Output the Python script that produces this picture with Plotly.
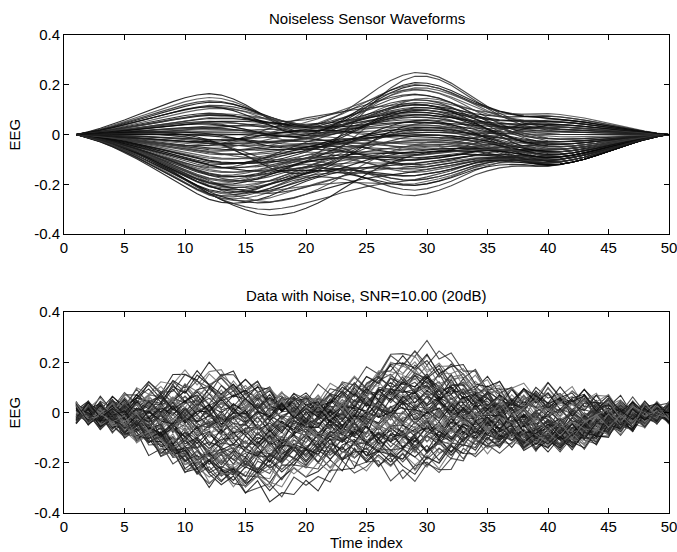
import numpy as np
import plotly.graph_objects as go

# time axis
t = list(range(1, 51))

# source time courses (read/estimated from the figure, 50 samples each)
s1 = [0, 0.06, 0.14, 0.23, 0.33, 0.44, 0.55, 0.66, 0.77, 0.87,
      0.95, 1.00, 0.99, 0.93, 0.83, 0.70, 0.55, 0.40, 0.27, 0.17,
      0.10, 0.05, 0.02, 0, 0, 0, 0, 0, 0, 0,
      0, 0, 0, 0, 0, 0, 0, 0, 0, 0,
      0, 0, 0, 0, 0, 0, 0, 0, 0, 0]
s2 = [0, 0.03, 0.06, 0.10, 0.15, 0.21, 0.28, 0.36, 0.44, 0.53,
      0.62, 0.71, 0.79, 0.86, 0.92, 0.97, 1.00, 0.99, 0.96, 0.90,
      0.82, 0.72, 0.60, 0.48, 0.36, 0.25, 0.16, 0.09, 0.04, 0.01,
      0, 0, 0, 0, 0, 0, 0, 0, 0, 0,
      0, 0, 0, 0, 0, 0, 0, 0, 0, 0]
s3 = [0, 0, 0, 0, 0, 0, 0, 0, 0, 0,
      0, 0, 0, 0, 0, 0, 0, 0.02, 0.05, 0.10,
      0.17, 0.27, 0.38, 0.51, 0.64, 0.77, 0.88, 0.96, 1.00, 0.98,
      0.92, 0.82, 0.69, 0.55, 0.42, 0.30, 0.20, 0.12, 0.07, 0.03,
      0.01, 0, 0, 0, 0, 0, 0, 0, 0, 0]
s4 = [0, 0, 0, 0, 0, 0, 0, 0, 0, 0,
      0, 0, 0, 0, 0, 0, 0, 0, 0, 0,
      0, 0, 0, 0, 0, 0, 0, 0, 0, 0.01,
      0.03, 0.08, 0.15, 0.25, 0.38, 0.52, 0.67, 0.81, 0.93, 1.00,
      0.99, 0.93, 0.83, 0.70, 0.56, 0.42, 0.29, 0.17, 0.07, 0]

# per-sensor gains on each source (estimated)
w1 = [0.20, 0.17, 0.15, 0.13, 0.12, 0.11, 0.10, 0.09, 0.08, 0.07,
      0.06, 0.06, 0.05, 0.04, 0.04, 0.03, 0.02, 0.02, 0.01, 0.00,
      0.00, -0.01, -0.01, -0.02, -0.02, -0.03, -0.03, -0.04, -0.04, -0.05,
      -0.05, -0.06, -0.06, -0.07, -0.07, -0.08, -0.08, -0.09, -0.09, -0.10,
      -0.10, -0.11, -0.11, -0.12, -0.12, -0.13, -0.13, -0.14, -0.14, -0.05,
      -0.03, -0.06, -0.02, -0.04, -0.01, 0.10, 0.08, 0.12, -0.08, -0.10,
      0.14, 0.09, 0.05, 0.03, 0.01, -0.02, -0.04, -0.06, -0.07, -0.09,
      -0.11, -0.12, -0.13, -0.15, -0.16, -0.08, -0.10, -0.05, -0.03, 0.00,
      0.02, 0.06, 0.04, -0.01, -0.05, -0.07, -0.03, 0.07, -0.12, -0.09]
w2 = [-0.05, -0.03, -0.02, 0.00, -0.01, 0.01, -0.02, 0.02, 0.00, 0.01,
      0.03, -0.01, 0.02, 0.01, -0.02, 0.03, 0.00, 0.02, -0.01, 0.02,
      -0.03, 0.01, -0.04, 0.00, -0.05, -0.02, -0.06, -0.03, -0.07, -0.04,
      -0.08, -0.05, -0.09, -0.06, -0.10, -0.07, -0.11, -0.08, -0.12, -0.09,
      -0.13, -0.10, -0.14, -0.12, -0.15, -0.13, -0.16, -0.14, -0.17, -0.20,
      -0.22, -0.24, -0.26, -0.28, -0.32, -0.18, -0.15, -0.20, 0.05, 0.08,
      -0.04, -0.06, -0.03, -0.05, 0.00, -0.02, -0.09, -0.01, -0.12, -0.04,
      -0.07, -0.02, -0.09, -0.06, -0.11, -0.18, -0.20, -0.16, -0.13, -0.10,
      -0.07, -0.08, 0.04, 0.05, 0.03, 0.02, -0.01, -0.04, -0.08, -0.15]
w3 = [0.20, 0.14, 0.25, 0.10, 0.18, 0.06, 0.12, 0.03, 0.16, 0.08,
      -0.02, 0.11, 0.05, 0.20, -0.05, 0.09, 0.02, 0.14, -0.08, 0.07,
      0.00, 0.12, -0.03, 0.05, -0.10, 0.08, 0.01, -0.12, 0.04, -0.06,
      0.10, -0.15, -0.02, 0.03, -0.18, -0.07, 0.06, -0.20, -0.04, -0.10,
      0.02, -0.22, -0.13, -0.08, 0.00, -0.16, -0.05, -0.24, -0.11, -0.19,
      -0.09, -0.14, -0.03, -0.17, -0.07, 0.15, 0.24, 0.05, 0.18, 0.12,
      0.08, 0.19, 0.13, 0.02, -0.04, 0.09, -0.07, 0.04, -0.11, 0.00,
      -0.14, 0.07, -0.09, -0.03, -0.18, -0.06, -0.12, 0.03, -0.20, -0.08,
      0.01, 0.11, -0.06, 0.16, -0.01, 0.10, -0.13, 0.21, -0.02, -0.16]
w4 = [0.06, 0.08, 0.02, 0.05, -0.02, 0.04, 0.07, 0.03, -0.04, 0.02,
      0.05, 0.00, -0.03, 0.03, 0.06, -0.05, 0.01, -0.06, 0.04, -0.02,
      -0.07, -0.08, 0.02, -0.09, -0.04, -0.10, 0.00, -0.06, -0.11, -0.08,
      -0.05, -0.09, -0.12, -0.07, -0.10, -0.03, -0.11, -0.08, -0.12, -0.06,
      -0.10, -0.09, -0.11, -0.05, -0.12, -0.10, -0.08, -0.12, -0.09, -0.11,
      -0.07, -0.12, -0.10, -0.08, -0.12, 0.05, 0.01, 0.03, 0.04, -0.02,
      0.04, 0.07, 0.02, -0.04, -0.06, 0.01, -0.09, -0.05, -0.10, -0.07,
      -0.11, -0.04, -0.12, -0.08, -0.10, -0.09, -0.11, -0.06, -0.12, -0.07,
      -0.03, 0.05, 0.03, -0.03, -0.08, -0.01, -0.10, 0.06, -0.06, -0.11]

# sensor noise patterns (thousandths, estimates of the jitter)
noise_rows = [
    [31, -22, 40, -35, 12, -8, 27, -41, 19, 5, -30, 36, -14, 22, -47, 9, 33, -25, 15, -38,
     44, -6, -19, 28, -33, 17, -2, 39, -28, 11, -45, 24, 6, -31, 37, -15, 20, -42, 30, -9,
     14, -26, 43, -18, 3, -36, 25, -11, 34, -23],
    [-18, 35, -27, 9, -44, 30, -12, 21, -5, 38, -33, 14, 26, -40, 18, -7, -29, 42, -16, 24,
     -37, 11, 31, -20, 4, -46, 28, -13, 35, -24, 16, -3, -39, 27, -10, 41, -32, 8, -21, 36,
     -15, 29, -43, 12, 20, -34, 5, -27, 39, -8],
    [7, -39, 25, -16, 33, -28, 44, -10, -23, 31, -6, -37, 19, 28, -14, 40, -32, 3, 26, -45,
     13, -21, 36, -9, 29, -35, 15, -4, -26, 42, -18, 30, -11, 22, -40, 6, 33, -24, 10, -38,
     27, -13, -5, 35, -30, 18, -42, 23, -2, 31],
    [-41, 16, -9, 34, -25, 2, 39, -31, 27, -15, 43, -20, 8, -36, 24, -11, 30, -44, 18, -3,
     -27, 37, -12, 21, -38, 6, 32, -17, -8, 25, -34, 45, -22, 13, -5, -29, 38, -14, 23, -35,
     9, 31, -19, -10, 40, -26, 14, -33, 22, -6],
    [24, -30, 11, -43, 36, -19, 5, 28, -37, 13, -24, 41, -2, -33, 17, -26, 45, -12, -8, 35,
     -21, 29, -40, 15, -6, -30, 38, -16, 22, -41, 10, -27, 34, -3, 18, -36, 26, -12, -20, 43,
     -9, 16, -31, 38, -24, 7, -15, 29, -37, 12],
    [-5, 27, -38, 20, -13, 42, -29, -7, 35, -22, 16, -45, 30, -4, -18, 37, -25, 11, -34, 23,
     -10, 44, -28, -2, 19, -39, 31, -14, 8, -27, 41, -20, -6, 33, -16, 24, -44, 12, 37, -23,
     3, -35, 21, -12, 28, -40, 17, -4, -26, 36],
    [38, -12, -26, 31, -40, 17, -3, -22, 44, -34, 8, 19, -29, 36, -10, -41, 22, -15, 39, -7,
     -25, 32, -18, 46, -30, 3, -13, 27, -37, 20, -9, -32, 41, -19, 29, -1, -35, 16, -28, 45,
     -11, -24, 33, -6, -17, 39, -30, 10, -21, 26],
    [-28, 9, 44, -20, 23, -36, 14, -1, -32, 26, -41, 6, 37, -17, -9, 29, -38, 21, -4, -30,
     40, -13, 17, -35, 25, -19, -44, 12, 30, -7, -22, 35, -27, 4, -38, 19, -12, 42, -25, 7,
     28, -39, 15, -29, 34, -3, -20, 41, -14, 18],
]

x_ticks = [0, 5, 10, 15, 20, 25, 30, 35, 40, 45, 50]
y_ticks = [-0.4, -0.2, 0, 0.2, 0.4]
y_tick_text = ["-0.4", "-0.2", "0", "0.2", "0.4"]

S = np.array([s1, s2, s3, s4])
W = np.array([w1, w2, w3, w4]).T
clean = W @ S
NR = np.array(noise_rows) / 1000.0

W_PX, H_PX = 677, 552
x0, x1 = 64, 669
top_y = (35, 234)
bot_y = (312, 513)

fig = go.Figure()
colors_top = ["rgba(10,10,10,0.85)", "rgba(60,60,60,0.8)", "rgba(30,30,30,0.8)"]
colors_bot = ["rgba(15,15,15,0.85)", "rgba(110,110,110,0.85)", "rgba(50,50,50,0.85)"]
for i in range(clean.shape[0]):
    fig.add_trace(go.Scatter(x=t, y=clean[i], mode="lines", xaxis="x", yaxis="y",
                             line=dict(color=colors_top[i % 3], width=1.15),
                             showlegend=False, hoverinfo="skip"))
for i in range(clean.shape[0]):
    nz = np.roll(NR[i % 8], (i // 8) * 7)
    fig.add_trace(go.Scatter(x=t, y=clean[i] + nz, mode="lines", xaxis="x2", yaxis="y2",
                             line=dict(color=colors_bot[i % 3], width=1.1),
                             showlegend=False, hoverinfo="skip"))

font = dict(family="Liberation Sans, Arial, sans-serif", size=15, color="black")
tfont = dict(family="Liberation Sans, Arial, sans-serif", size=15, color="black")
axis_common = dict(showline=True, linecolor="black", linewidth=1, mirror="ticks",
                   ticks="inside", ticklen=5, tickcolor="black", showgrid=False,
                   zeroline=False, tickfont=font, automargin=False,
                   ticklabeloverflow="allow")


def xdom():
    return [x0 / W_PX, x1 / W_PX]


def ydom(p):
    return [1 - p[1] / H_PX, 1 - p[0] / H_PX]


fig.update_layout(
    width=W_PX, height=H_PX,
    margin=dict(l=0, r=0, t=0, b=0, pad=0),
    paper_bgcolor="white", plot_bgcolor="white",
    font=font,
    xaxis=dict(domain=xdom(), range=[0, 50], tickvals=x_ticks, anchor="y", **axis_common),
    yaxis=dict(domain=ydom(top_y), range=[-0.4, 0.4], tickvals=y_ticks, ticktext=y_tick_text,
               anchor="x", **axis_common),
    xaxis2=dict(domain=xdom(), range=[0, 50], tickvals=x_ticks, anchor="y2", **axis_common),
    yaxis2=dict(domain=ydom(bot_y), range=[-0.4, 0.4], tickvals=y_ticks, ticktext=y_tick_text,
                anchor="x2", **axis_common),
)

cx = (x0 + x1) / 2 / W_PX
ann = [
    dict(text="Noiseless Sensor Waveforms", x=cx, y=1 - 18 / H_PX),
    dict(text="Data with Noise, SNR=10.00 (20dB)", x=cx, y=1 - 295 / H_PX),
    dict(text="Time index", x=cx, y=1 - 542 / H_PX),
    dict(text="EEG", x=14 / W_PX, y=1 - (top_y[0] + top_y[1]) / 2 / H_PX, textangle=-90),
    dict(text="EEG", x=14 / W_PX, y=1 - (bot_y[0] + bot_y[1]) / 2 / H_PX, textangle=-90),
]
for a in ann:
    fig.add_annotation(xref="paper", yref="paper", showarrow=False,
                       xanchor="center", yanchor="middle", font=tfont, **a)

fig.write_html("out.html", config={"displayModeBar": False, "staticPlot": True},
               post_script="document.body.style.margin='0';document.body.style.overflow='hidden';")
